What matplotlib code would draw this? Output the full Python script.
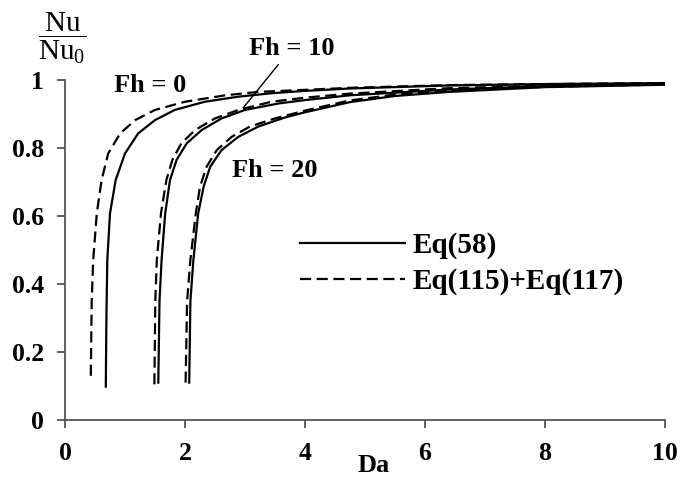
import matplotlib
matplotlib.use('Agg')
import matplotlib.pyplot as plt

plt.rcParams['font.family'] = ['Liberation Serif', 'DejaVu Serif']
plt.rcParams['mathtext.fontset'] = 'custom'
plt.rcParams['mathtext.rm'] = 'Liberation Serif'
plt.rcParams['mathtext.it'] = 'Liberation Serif:italic'

# Fh = 0
da_0_eq58 = [0.68, 0.69, 0.705, 0.75, 0.845, 1.0, 1.22, 1.5, 1.83, 2.33, 2.89, 3.44, 4.0, 4.75, 6.4, 8.0, 10.0]
nu_0_eq58 = [0.098, 0.3, 0.471, 0.608, 0.706, 0.784, 0.843, 0.882, 0.912, 0.936, 0.951, 0.961, 0.968, 0.975, 0.984, 0.988, 0.991]
da_0_eq115 = [0.43, 0.445, 0.47, 0.53, 0.61, 0.72, 0.92, 1.17, 1.5, 2.0, 2.67, 3.22, 4.0, 4.75, 6.4, 8.0, 10.0]
nu_0_eq115 = [0.13, 0.35, 0.471, 0.608, 0.706, 0.784, 0.843, 0.882, 0.912, 0.936, 0.955, 0.965, 0.971, 0.977, 0.985, 0.988, 0.991]

# Fh = 10
da_10_eq58 = [1.555, 1.575, 1.61, 1.67, 1.75, 1.86, 2.03, 2.28, 2.61, 3.0, 3.56, 4.0, 4.75, 6.4, 8.0, 10.0]
nu_10_eq58 = [0.11, 0.35, 0.471, 0.608, 0.706, 0.765, 0.814, 0.853, 0.887, 0.912, 0.931, 0.941, 0.955, 0.972, 0.982, 0.988]
da_10_eq115 = [1.49, 1.505, 1.53, 1.60, 1.69, 1.79, 1.94, 2.17, 2.5, 2.89, 3.44, 4.0, 4.75, 6.4, 8.0, 10.0]
nu_10_eq115 = [0.105, 0.35, 0.471, 0.608, 0.706, 0.765, 0.814, 0.853, 0.887, 0.912, 0.936, 0.948, 0.96, 0.976, 0.983, 0.989]

# Fh = 20
da_20_eq58 = [2.07, 2.09, 2.14, 2.22, 2.31, 2.42, 2.61, 2.89, 3.22, 3.67, 4.0, 4.75, 5.5, 6.4, 8.0, 10.0]
nu_20_eq58 = [0.11, 0.35, 0.471, 0.608, 0.686, 0.745, 0.794, 0.833, 0.863, 0.89, 0.905, 0.935, 0.953, 0.965, 0.979, 0.986]
da_20_eq115 = [2.01, 2.035, 2.09, 2.18, 2.25, 2.36, 2.53, 2.78, 3.08, 3.5, 4.0, 4.75, 5.5, 6.4, 8.0, 10.0]
nu_20_eq115 = [0.11, 0.35, 0.471, 0.608, 0.686, 0.745, 0.794, 0.833, 0.863, 0.887, 0.91, 0.94, 0.957, 0.969, 0.98, 0.987]

xticks = [0, 2, 4, 6, 8, 10]
yticks = [0, 0.2, 0.4, 0.6, 0.8, 1]
ytick_labels = ['0', '0.2', '0.4', '0.6', '0.8', '1']

fig = plt.figure(figsize=(6.86, 4.82), dpi=100)
ax = fig.add_axes([65 / 686, 62 / 482, 600 / 686, 340 / 482])

solid = dict(color='black', lw=1.6)
dashed = dict(color='black', lw=1.6, dashes=(5, 2.5))

ax.plot(da_0_eq58, nu_0_eq58, label='Eq(58)', **solid)
ax.plot(da_0_eq115, nu_0_eq115, label='Eq(115)+Eq(117)', **dashed)
ax.plot(da_10_eq58, nu_10_eq58, **solid)
ax.plot(da_10_eq115, nu_10_eq115, **dashed)
ax.plot(da_20_eq58, nu_20_eq58, **solid)
ax.plot(da_20_eq115, nu_20_eq115, **dashed)

ax.set_xlim(0, 10)
ax.set_ylim(0, 1)
ax.set_xticks(xticks)
ax.set_xticklabels([str(t) for t in xticks])
ax.set_yticks(yticks)
ax.set_yticklabels(ytick_labels)
for lab in ax.get_xticklabels() + ax.get_yticklabels():
    lab.set_fontweight('bold')
    lab.set_fontsize(18.5)

for s in ['top', 'right']:
    ax.spines[s].set_visible(False)
for s in ['left', 'bottom']:
    ax.spines[s].set_color('#555555')
    ax.spines[s].set_linewidth(1.3)
ax.tick_params(axis='both', direction='out', length=6, width=1.3, color='#555555')
ax.tick_params(axis='x', pad=10)
ax.tick_params(axis='y', pad=9)

# axis titles
ax.text(0.515, -0.135, 'Da', transform=ax.transAxes, fontsize=19,
        fontweight='bold', ha='center', va='center')
fig.text(62 / 686, 1 - 38 / 482, r'$\dfrac{\mathrm{Nu}}{\mathrm{Nu}_0}$',
         fontsize=21, ha='center', va='center')

bold = dict(fontsize=19, fontweight='bold', ha='center', va='center')
ax.text(1.42, 0.985, 'Fh = 0', **bold)
ax.text(3.5, 0.735, 'Fh = 20', **bold)
ax.annotate('Fh = 10', xy=(2.97, 0.918), xytext=(3.78, 1.094),
            annotation_clip=False,
            arrowprops=dict(arrowstyle='-', color='black', lw=1.0, shrinkA=2, shrinkB=0),
            **bold)

leg = ax.legend(loc='upper left', bbox_to_anchor=(300 / 686, 1 - 232 / 482),
                bbox_transform=fig.transFigure, frameon=False,
                prop=dict(family='Liberation Serif', weight='bold', size=21),
                handlelength=3.6, handletextpad=0.25, labelspacing=0.3,
                borderaxespad=0, borderpad=0)

fig.savefig('out.png', dpi=100)
